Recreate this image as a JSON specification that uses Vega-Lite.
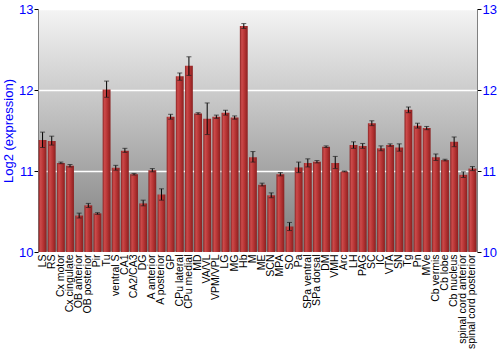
{
  "$schema": "https://vega.github.io/schema/vega-lite/v6.json",
  "width": 500,
  "height": 350,
  "autosize": {"type": "fit", "contains": "padding"},
  "padding": {"top": 3, "left": 2, "right": 3, "bottom": 1},
  "config": {
    "font": "Liberation Sans",
    "view": {
      "stroke": "#808080",
      "strokeWidth": 1,
      "fill": {"gradient": "linear", "x1": 0, "y1": 0, "x2": 0, "y2": 1, "stops": [{"offset": 0, "color": "#f4f4f4"}, {"offset": 1, "color": "#7c7c7c"}]}
    }
  },
  "data": {"values": [
    {"r": "LS", "v": 11.384, "lo": 11.29, "hi": 11.48},
    {"r": "RS", "v": 11.37, "lo": 11.32, "hi": 11.43},
    {"r": "Cx motor", "v": 11.10, "lo": 11.09, "hi": 11.11},
    {"r": "Cx cingulate", "v": 11.065, "lo": 11.05, "hi": 11.08},
    {"r": "OB anterior", "v": 10.45, "lo": 10.42, "hi": 10.48},
    {"r": "OB posterior", "v": 10.576, "lo": 10.55, "hi": 10.60},
    {"r": "Pir", "v": 10.477, "lo": 10.465, "hi": 10.485},
    {"r": "Tu", "v": 12.006, "lo": 11.91, "hi": 12.11},
    {"r": "ventral S", "v": 11.04, "lo": 11.01, "hi": 11.07},
    {"r": "CA1", "v": 11.25, "lo": 11.23, "hi": 11.28},
    {"r": "CA2/CA3", "v": 10.96, "lo": 10.95, "hi": 10.97},
    {"r": "DG", "v": 10.60, "lo": 10.57, "hi": 10.64},
    {"r": "A anterior", "v": 11.01, "lo": 10.99, "hi": 11.03},
    {"r": "A posterior", "v": 10.71, "lo": 10.64, "hi": 10.78},
    {"r": "GP", "v": 11.67, "lo": 11.64, "hi": 11.70},
    {"r": "CPu lateral", "v": 12.17, "lo": 12.12, "hi": 12.21},
    {"r": "CPu medial", "v": 12.30, "lo": 12.18, "hi": 12.41},
    {"r": "MD", "v": 11.71, "lo": 11.70, "hi": 11.72},
    {"r": "VA/VL", "v": 11.645, "lo": 11.45, "hi": 11.84},
    {"r": "VPM/VPL", "v": 11.67, "lo": 11.65, "hi": 11.69},
    {"r": "LG", "v": 11.72, "lo": 11.69, "hi": 11.75},
    {"r": "MG", "v": 11.66, "lo": 11.64, "hi": 11.68},
    {"r": "Hb", "v": 12.79, "lo": 12.76, "hi": 12.82},
    {"r": "M", "v": 11.17, "lo": 11.11, "hi": 11.24},
    {"r": "ME", "v": 10.83, "lo": 10.815, "hi": 10.85},
    {"r": "SCN", "v": 10.70, "lo": 10.67, "hi": 10.73},
    {"r": "MPA", "v": 10.96, "lo": 10.94, "hi": 10.98},
    {"r": "SO", "v": 10.315, "lo": 10.265, "hi": 10.365},
    {"r": "Pa", "v": 11.044, "lo": 10.98, "hi": 11.11},
    {"r": "SPa ventral", "v": 11.10, "lo": 11.05, "hi": 11.15},
    {"r": "SPa dorsal", "v": 11.115, "lo": 11.10, "hi": 11.13},
    {"r": "DM", "v": 11.30, "lo": 11.29, "hi": 11.31},
    {"r": "VMH", "v": 11.10, "lo": 11.03, "hi": 11.18},
    {"r": "Arc", "v": 10.995, "lo": 10.99, "hi": 11.0},
    {"r": "LH", "v": 11.32, "lo": 11.28, "hi": 11.36},
    {"r": "PAG", "v": 11.31, "lo": 11.28, "hi": 11.34},
    {"r": "SC", "v": 11.59, "lo": 11.56, "hi": 11.62},
    {"r": "IC", "v": 11.28, "lo": 11.25, "hi": 11.31},
    {"r": "VTA", "v": 11.32, "lo": 11.305, "hi": 11.335},
    {"r": "SN", "v": 11.29, "lo": 11.245, "hi": 11.335},
    {"r": "Tg", "v": 11.757, "lo": 11.72, "hi": 11.79},
    {"r": "Pn", "v": 11.56, "lo": 11.53, "hi": 11.59},
    {"r": "MVe", "v": 11.53, "lo": 11.51, "hi": 11.55},
    {"r": "Cb vermis", "v": 11.17, "lo": 11.13, "hi": 11.21},
    {"r": "Cb lobe", "v": 11.135, "lo": 11.125, "hi": 11.145},
    {"r": "Cb  nucleus", "v": 11.36, "lo": 11.30, "hi": 11.42},
    {"r": "spinal cord anterior", "v": 10.953, "lo": 10.92, "hi": 10.99},
    {"r": "spinal cord posterior", "v": 11.03, "lo": 11.005, "hi": 11.055}
  ]},
  "encoding": {
    "x": {
      "field": "r", "type": "nominal", "sort": null,
      "scale": {"paddingInner": 0.14, "paddingOuter": 0.07},
      "axis": {"title": null, "labelAngle": -90, "labelFontSize": 10.5, "labelColor": "#000000", "ticks": false, "domain": false, "labelPadding": 2}
    }
  },
  "layer": [
    {
      "mark": {"type": "bar", "fill": {"gradient": "linear", "x1": 0, "y1": 0, "x2": 1, "y2": 0, "stops": [{"offset": 0, "color": "#8c2424"}, {"offset": 0.25, "color": "#cc4a4a"}, {"offset": 0.6, "color": "#b53333"}, {"offset": 1, "color": "#8a2020"}]}},
      "encoding": {
        "y": {
          "field": "v", "type": "quantitative",
          "scale": {"domain": [10, 13], "zero": false, "nice": false},
          "axis": {"title": "Log2 (expression)", "titleColor": "#0000ff", "titleFontSize": 13, "titleFontWeight": "normal", "titlePadding": 3, "labelColor": "#0000ff", "labelFontSize": 13, "values": [10, 11, 12, 13], "tickColor": "#000000", "tickSize": 4, "domainColor": "#808080", "gridColor": "#ffffff", "gridWidth": 1.5, "gridOpacity": 1, "grid": true, "labelPadding": 1}
        },
        "y2": {"datum": 10}
      }
    },
    {
      "mark": {"type": "rule", "color": "#000000", "strokeWidth": 1},
      "encoding": {
        "y": {
          "field": "lo", "type": "quantitative",
          "scale": {"domain": [10, 13], "zero": false, "nice": false},
          "axis": {"orient": "right", "title": null, "labelColor": "#0000ff", "labelFontSize": 13, "values": [10, 11, 12, 13], "tickColor": "#000000", "tickSize": 4, "domainColor": "#808080", "grid": false, "labelPadding": 1}
        },
        "y2": {"field": "hi"}
      }
    },
    {
      "mark": {"type": "tick", "color": "#222222", "size": 5, "thickness": 1, "orient": "horizontal"},
      "encoding": {"y": {"field": "lo", "type": "quantitative", "axis": null}}
    },
    {
      "mark": {"type": "tick", "color": "#222222", "size": 5, "thickness": 1, "orient": "horizontal"},
      "encoding": {"y": {"field": "hi", "type": "quantitative", "axis": null}}
    }
  ],
  "resolve": {"axis": {"y": "independent"}}
}
